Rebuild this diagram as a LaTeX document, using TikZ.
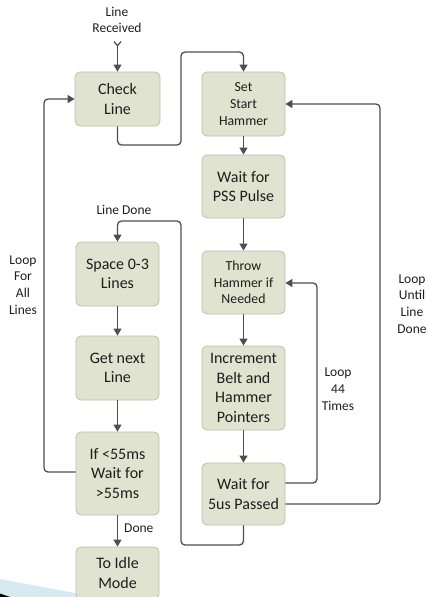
\documentclass[tikz,border=0pt]{standalone}
\usepackage{fontspec}
\setmainfont{Carlito}
\usetikzlibrary{arrows.meta}
\definecolor{boxfill}{RGB}{223,227,207}
\definecolor{boxedge}{RGB}{188,194,170}
\definecolor{wire}{RGB}{78,78,78}
\definecolor{ink}{RGB}{30,30,30}
\definecolor{wedge}{RGB}{214,234,242}
\tikzset{
  stepbox/.style={draw=boxedge, fill=boxfill, line width=0.8pt, rounded corners=5pt,
    minimum width=83pt, align=center, text=ink, inner sep=2pt,
    font=\fontsize{16}{19.5}\selectfont},
  smallbox/.style={stepbox, font=\fontsize{13.8}{16.7}\selectfont},
  note/.style={align=center, text=ink, inner sep=0pt, font=\fontsize{13.5}{16.8}\selectfont},
  flow/.style={draw=wire, line width=1.3pt, rounded corners=4pt,
    -{Triangle[length=7pt,width=8pt]}},
}
\begin{document}
\begin{tikzpicture}[x=1pt,y=-1pt]
\useasboundingbox (0,0) rectangle (428,597);
% decorative wedge in the lower left corner
\fill[wedge] (0,579) -- (80,594) -- (80,597) -- (0,597) -- cycle;
\fill[black] (0,593.5) -- (10,597) -- (0,597) -- cycle;

% left column
\node[stepbox, minimum width=85pt, minimum height=54pt] (check) at (117.5,99) {Check\\Line};
\node[stepbox, minimum height=64pt] (space) at (117.5,274) {Space 0-3\\Lines};
\node[stepbox, minimum height=64pt] (getnext) at (117.5,368) {Get next\\Line};
\node[stepbox, minimum height=83pt] (ifbox) at (117.5,473.5) {If <55ms\\Wait for\\>55ms};
\node[stepbox, minimum height=52pt] (idle) at (117.5,573) {To Idle\\Mode};

% right column
\node[smallbox, minimum height=64pt] (setstart) at (243.5,104) {Set\\Start\\Hammer};
\node[stepbox, minimum height=63pt] (pss) at (243.5,186.5) {Wait for\\PSS Pulse};
\node[smallbox, minimum height=63pt] (throw) at (243.5,282.5) {Throw\\Hammer if\\Needed};
\node[stepbox, minimum height=84pt] (incr) at (243.5,388) {Increment\\Belt and\\Hammer\\Pointers};
\node[stepbox, minimum height=62pt] (wait5) at (243.5,494) {Wait for\\5us Passed};

% labels
\node[note] (lrtext) at (117,20) {Line\\Received};
\node[note] (lineDone) at (124,210) {Line Done};
\node[note] (loopall) at (23,285) {Loop\\For\\All\\Lines};
\node[note] (loop44) at (338,389) {Loop\\44\\Times};
\node[note] (loopline) at (412,304) {Loop\\Until\\Line\\Done};
\node[note, anchor=west] (done) at (124,528) {Done};

\coordinate (lrstart) at (117.5,41);

% connectors
\draw[draw=wire, line width=1.3pt, {Straight Barb[reversed,length=4pt,width=7pt]}-{Triangle[length=7pt,width=8pt]}] (lrstart) -- (check.north);
\draw[flow] (check.south) |- (181,145) -- (181,52) -| (setstart.north);
\draw[flow] (setstart) -- (pss);
\draw[flow] (pss) -- (throw);
\draw[flow] (throw) -- (incr);
\draw[flow] (incr) -- (wait5);
\draw[flow] (wait5.east |- 0,483) -- (317,483) |- (throw.east |- 0,283);
\draw[flow] (wait5.east |- 0,504) -- (380,504) |- (setstart.east);
\draw[flow] (wait5.south) |- (181,545) -- (181,221) -| (space.north);
\draw[flow] (space) -- (getnext);
\draw[flow] (getnext) -- (ifbox);
\draw[flow] (ifbox) -- (idle);
\draw[flow] (ifbox.west |- 0,472) -- (44,472) |- (check.west);
\end{tikzpicture}
\end{document}
